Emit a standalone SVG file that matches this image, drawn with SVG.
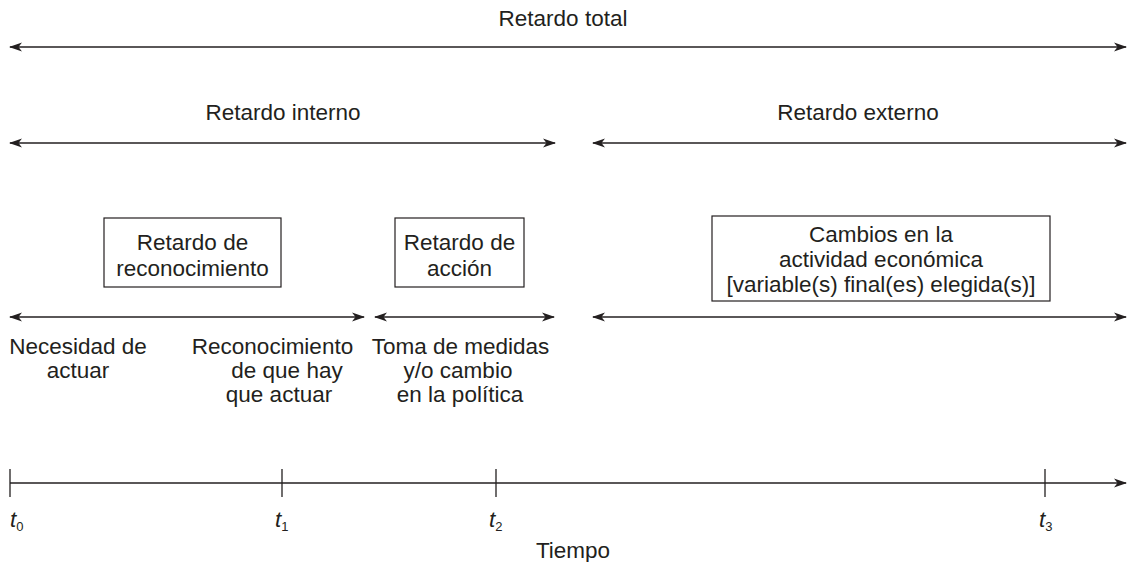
<svg xmlns="http://www.w3.org/2000/svg" width="1127" height="562" viewBox="0 0 1127 562">
<style>
text{font-family:"Liberation Sans",Arial,sans-serif;font-size:22.5px;fill:#231f20;text-anchor:middle}
.ln{stroke:#231f20;stroke-width:1.3;fill:none}
.bx{stroke:#231f20;stroke-width:1.2;fill:#fff}
.it{font-style:italic;text-anchor:start}
.sub{font-size:13px;font-style:normal}
</style>
<defs>
<marker id="ah" viewBox="0 0 13 10" refX="12" refY="5" markerWidth="13" markerHeight="10" markerUnits="userSpaceOnUse" orient="auto-start-reverse">
<path d="M0,0.5 L13,5 L0,9.5 L3.5,5 Z" fill="#231f20"/>
</marker>
</defs>
<rect width="1127" height="562" fill="#fff"/>
<g id="labels">
<text x="563" y="26">Retardo total</text>
<text x="283" y="120">Retardo interno</text>
<text x="858" y="120">Retardo externo</text>
</g>
<g id="connectors">
<line class="ln" x1="10" y1="47" x2="1126" y2="47" marker-start="url(#ah)" marker-end="url(#ah)"/>
<line class="ln" x1="10" y1="143" x2="555" y2="143" marker-start="url(#ah)" marker-end="url(#ah)"/>
<line class="ln" x1="593" y1="143" x2="1126" y2="143" marker-start="url(#ah)" marker-end="url(#ah)"/>
<line class="ln" x1="10" y1="317" x2="364" y2="317" marker-start="url(#ah)" marker-end="url(#ah)"/>
<line class="ln" x1="375" y1="317" x2="554" y2="317" marker-start="url(#ah)" marker-end="url(#ah)"/>
<line class="ln" x1="593" y1="317" x2="1126" y2="317" marker-start="url(#ah)" marker-end="url(#ah)"/>
<line class="ln" x1="10" y1="483" x2="1126" y2="483" marker-end="url(#ah)"/>
<line class="ln" x1="10" y1="469" x2="10" y2="497"/>
<line class="ln" x1="282" y1="469" x2="282" y2="497"/>
<line class="ln" x1="496" y1="469" x2="496" y2="497"/>
<line class="ln" x1="1045" y1="469" x2="1045" y2="497"/>
</g>
<g id="box-reconocimiento">
<rect class="bx" x="104" y="218" width="177" height="69"/>
<text x="192.5" y="250">Retardo de</text>
<text x="192.5" y="276">reconocimiento</text>
</g>
<g id="box-accion">
<rect class="bx" x="395" y="218" width="129" height="69"/>
<text x="459.5" y="250">Retardo de</text>
<text x="459.5" y="276">acción</text>
</g>
<g id="box-cambios">
<rect class="bx" x="712" y="216" width="338" height="85"/>
<text x="881" y="242">Cambios en la</text>
<text x="881" y="267">actividad económica</text>
<text x="881" y="292">[variable(s) final(es) elegida(s)]</text>
</g>
<g id="evt-necesidad">
<text x="78" y="354">Necesidad de</text>
<text x="78" y="378">actuar</text>
</g>
<g id="evt-reconocimiento">
<text x="272.5" y="354">Reconocimiento</text>
<text x="287" y="378">de que hay</text>
<text x="279" y="402">que actuar</text>
</g>
<g id="evt-toma">
<text x="460.5" y="354">Toma de medidas</text>
<text x="458" y="378">y/o cambio</text>
<text x="460" y="402">en la política</text>
</g>
<g id="axis-labels">
<text class="it" x="10" y="527">t<tspan class="sub" dy="4">0</tspan></text>
<text class="it" x="275" y="527">t<tspan class="sub" dy="4">1</tspan></text>
<text class="it" x="489" y="527">t<tspan class="sub" dy="4">2</tspan></text>
<text class="it" x="1039" y="527">t<tspan class="sub" dy="4">3</tspan></text>
<text x="573" y="558">Tiempo</text>
</g>
</svg>
